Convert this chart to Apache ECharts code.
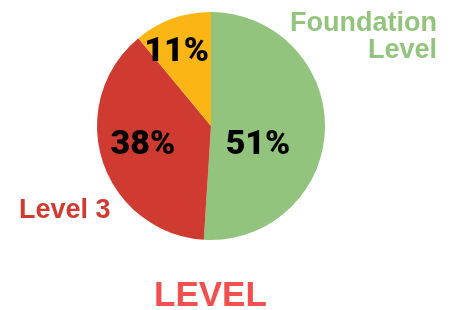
<!DOCTYPE html>
<html>
<head>
<meta charset="utf-8">
<script src="https://cdn.jsdelivr.net/npm/echarts@6/dist/echarts.min.js"></script>
<style>
  html, body { margin: 0; padding: 0; background: #fff; }
  #chart { width: 458px; height: 310px; }
</style>
</head>
<body>
<div id="chart"></div>
<script>
// chart data
const categories = ['Foundation Level', 'Level 3', 'Level 2']
const shares = [51, 38, 11]
const sliceColors = ['#93c47d', '#cf3a31', '#fbb616']
const titleText = 'LEVEL'

// nudges for the percent labels (Excel "best fit" look)
const labelNudge = [[-13, 18], [-11, 1], [-14, -17]]

const chart = echarts.init(document.getElementById('chart'))

const nameWords = categories[0].split(' ')

chart.setOption({
  animation: false,
  title: {
    text: titleText,
    left: 154,
    bottom: -4,
    padding: 0,
    textStyle: {
      color: '#f2504f',
      fontSize: 35,
      fontWeight: 'bold',
      fontFamily: 'Liberation Sans'
    }
  },
  graphic: [
    {
      type: 'text',
      right: 21,
      top: 10,
      style: {
        text: nameWords[0],
        fill: sliceColors[0],
        font: 'bold 27px "Liberation Sans"'
      }
    },
    {
      type: 'text',
      right: 21,
      top: 37,
      style: {
        text: nameWords[1],
        fill: sliceColors[0],
        font: 'bold 27px "Liberation Sans"'
      }
    },
    {
      type: 'text',
      left: 19,
      top: 197,
      style: {
        text: categories[1],
        fill: sliceColors[1],
        font: 'bold 27px "Liberation Sans"'
      }
    }
  ],
  series: [
    {
      type: 'pie',
      center: [211, 126],
      radius: 114,
      startAngle: 90,
      clockwise: true,
      itemStyle: { borderWidth: 0 },
      label: {
        show: true,
        position: 'inside',
        formatter: '{d}%',
        color: '#000',
        fontSize: 34,
        fontWeight: 900,
        fontFamily: 'Roboto'
      },
      labelLine: { show: false },
      emphasis: { disabled: true },
      labelLayout: function (params) {
        const n = labelNudge[params.dataIndex]
        return { dx: n[0], dy: n[1] }
      },
      data: categories.map((name, i) => ({
        name: name,
        value: shares[i],
        itemStyle: { color: sliceColors[i] }
      }))
    }
  ]
})
</script>
</body>
</html>
